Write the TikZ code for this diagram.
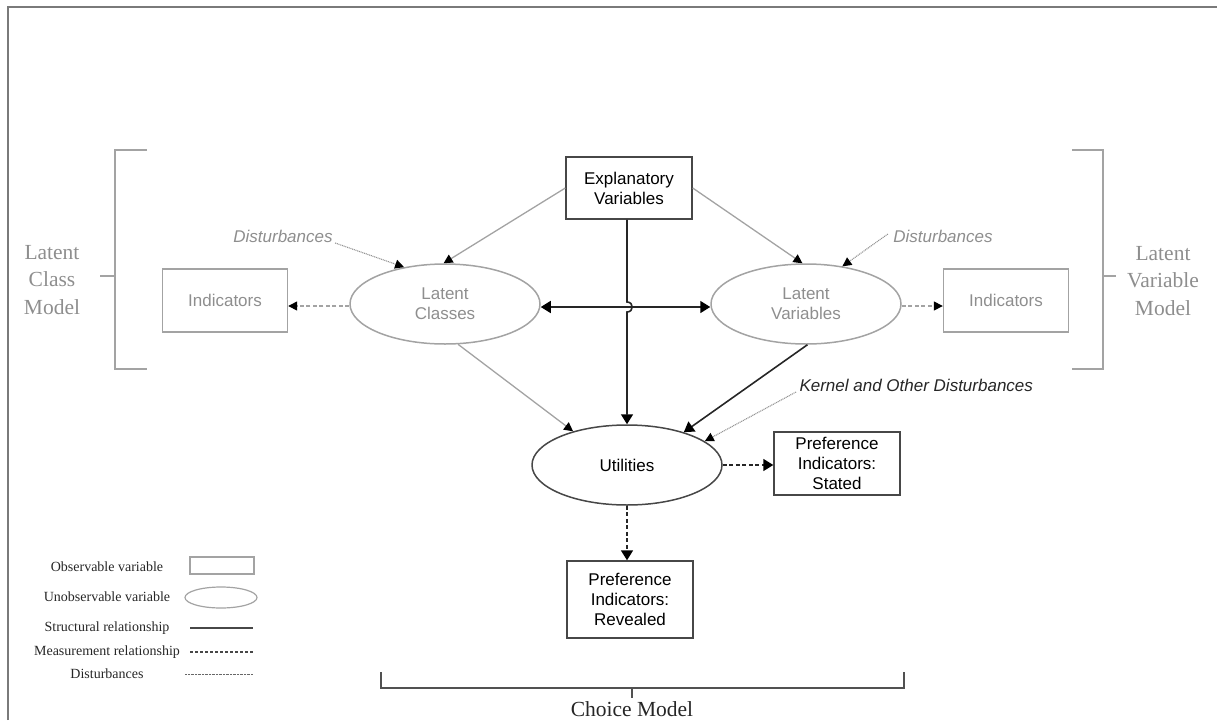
\documentclass[tikz,border=0pt]{standalone}
\usepackage{fontspec}
\setmainfont{Liberation Serif}
\setsansfont{Liberation Sans}
\usetikzlibrary{arrows.meta,shapes.geometric}

\definecolor{lightgray}{HTML}{A3A3A3}
\definecolor{graytext}{HTML}{8E8E8E}
\definecolor{darkline}{HTML}{262626}
\definecolor{framegray}{HTML}{7A7A7A}

\tikzset{
  sanslabel/.style={font=\sffamily\fontsize{17}{20}\selectfont, align=center},
  seriflabel/.style={font=\fontsize{21.5}{27.5}\selectfont, align=center, text=graytext},
  legendtext/.style={font=\fontsize{14}{15}\selectfont, text=darkline},
  obsbox/.style={draw=darkline!85, line width=1.4pt, rectangle, minimum width=126pt, inner sep=0pt, sanslabel},
  obsgray/.style={draw=lightgray, line width=1.4pt, rectangle, minimum width=125pt, minimum height=63pt, inner sep=0pt, sanslabel, text=graytext},
  latgray/.style={draw=lightgray, line width=1.5pt, ellipse, minimum width=190pt, minimum height=80pt, inner sep=0pt, sanslabel, text=graytext},
  latdark/.style={draw=darkline!85, line width=1.5pt, ellipse, minimum width=190pt, minimum height=80pt, inner sep=0pt, sanslabel},
  bigtip/.tip={Triangle[length=10pt,width=12pt,color=black]},
  smalltip/.tip={Triangle[length=9pt,width=9pt,color=black]},
  structural/.style={draw=darkline, line width=1.6pt, -bigtip},
  structgray/.style={draw=lightgray, line width=1.3pt, -smalltip},
  measure/.style={draw=darkline, line width=1.5pt, dash pattern=on 4pt off 2.5pt, -bigtip},
  measgray/.style={draw=lightgray, line width=1.4pt, dash pattern=on 4pt off 2.5pt, -smalltip},
  disturb/.style={draw=lightgray!90!black, line width=1.1pt, dash pattern=on 1pt off 0.8pt, -smalltip},
  bracketline/.style={draw=lightgray, line width=1.8pt},
  choicebracket/.style={draw=darkline!80, line width=1.5pt}
}

\begin{document}
\begin{tikzpicture}[x=1pt,y=-1pt]
  \useasboundingbox (0,0) rectangle (1217,720);

  % outer frame (top and left edges only)
  \draw[framegray, line width=1.6pt] (8,720) -- (8,7) -- (1217,7);

  % ---------- nodes ----------
  \node[obsbox, minimum height=62pt] (ex) at (629,188) {Explanatory\\Variables};
  \node[latgray] (lc) at (445,304) {Latent\\Classes};
  \node[latgray] (lv) at (806,304) {Latent\\Variables};
  \node[obsgray] (il) at (225,300.5) {Indicators};
  \node[obsgray] (ir) at (1006,300.5) {Indicators};
  \node[latdark] (ut) at (627,465) {Utilities};
  \node[obsbox, minimum height=63pt] (ps) at (837,463.5) {Preference\\Indicators:\\Stated};
  \node[obsbox, minimum height=77pt] (pr) at (630,599.5) {Preference\\Indicators:\\Revealed};

  % disturbance labels
  \node[sanslabel, text=graytext, font=\sffamily\itshape\fontsize{17}{20}\selectfont] (dl) at (283,236) {Disturbances};
  \node[sanslabel, text=graytext, font=\sffamily\itshape\fontsize{17}{20}\selectfont] (dr) at (943,236) {Disturbances};
  \node[sanslabel, text=darkline, font=\sffamily\itshape\fontsize{17}{20}\selectfont, anchor=west] (dk) at (796,385) {Kernel and Other Disturbances};

  % ---------- connectors ----------
  % explanatory variables to the latent constructs
  \draw[structgray] (ex.west) -- (lc.92);
  \draw[structgray] (ex.east) -- (lv.95);

  % disturbances
  \draw[disturb] (dl.east) ++(-1,7) coordinate (dls) -- (lc.138.5);
  \draw[disturb] (dr.west) ++(-2,-2) coordinate (drs) -- (lv.46.5);
  \draw[disturb] (dk.west) ++(0,7) coordinate (dks) -- (ut.17);

  % measurement of latent constructs
  \draw[measgray] (lc.west) ++(0,2) coordinate (lcw) -- (il.east |- lcw);
  \draw[measgray] (lv.east) ++(0,2) coordinate (lve) -- (ir.west |- lve);

  % correlation between latent classes and latent variables
  \draw[darkline, line width=1.6pt, bigtip-bigtip] (lc.east) ++(0,3) coordinate (lce) -- (lv.west |- lce);

  % explanatory variables to utilities, hopping over the horizontal link
  \draw[structural] (ex.south -| ut.north) -- (627,302)
      .. controls (634,302) and (634,312) .. (627,312) -- (ut.north);

  % latent constructs to utilities
  \draw[structgray] (lc.-72) -- (ut.148.6);
  \draw[structural] (lv.-88) -- (ut.30);

  % utilities to preference indicators
  \draw[measure] (ut.east) -- (ps.west |- ut.east);
  \draw[measure] (ut.south) -- (pr.north -| ut.south);

  % ---------- brackets ----------
  \draw[bracketline] (147,150) -- (115,150) -- (115,369) -- (147,369);
  \draw[bracketline] (115,276) coordinate (lbt) -- (100,276);
  \node[seriflabel] (lcm) at (52,280) {Latent\\Class\\Model};

  \draw[bracketline] (1072,150) -- (1103,150) -- (1103,369) -- (1072,369);
  \draw[bracketline] (1103,276) -- (1116,276);
  \node[seriflabel] (lvm) at (1163,281) {Latent\\Variable\\Model};

  \draw[choicebracket] (381,672) -- (381,688) -- (904,688) -- (904,672);
  \draw[choicebracket] (632,688) -- (632,698);
  \node[seriflabel, text=darkline, anchor=base] (cm) at (632,716) {Choice Model};

  % ---------- legend ----------
  \node[legendtext] (l1) at (107,567) {Observable variable};
  \node[legendtext] (l2) at (107,597) {Unobservable variable};
  \node[legendtext] (l3) at (107,628) {Structural relationship};
  \node[legendtext] (l4) at (107,652) {Measurement relationship};
  \node[legendtext] (l5) at (107,674) {Disturbances};

  \node[draw=lightgray, line width=1.2pt, rectangle, minimum width=64pt, minimum height=17pt, inner sep=0pt] (lg1) at (222,565.5) {};
  \node[draw=lightgray, line width=1.2pt, ellipse, minimum width=72pt, minimum height=21pt, inner sep=0pt] (lg2) at (221,597.5) {};
  \coordinate (s3a) at (190,628); \coordinate (s3b) at (253,628);
  \draw[darkline!85, line width=2pt] (s3a) -- (s3b);
  \coordinate (s4a) at (190,652); \coordinate (s4b) at (253,652);
  \draw[darkline!85, line width=1.4pt, dash pattern=on 3pt off 2pt] (s4a) -- (s4b);
  \coordinate (s5a) at (185,674); \coordinate (s5b) at (253,674);
  \draw[darkline!70, line width=0.9pt, dash pattern=on 0.8pt off 0.6pt] (s5a) -- (s5b);
\end{tikzpicture}
\end{document}
